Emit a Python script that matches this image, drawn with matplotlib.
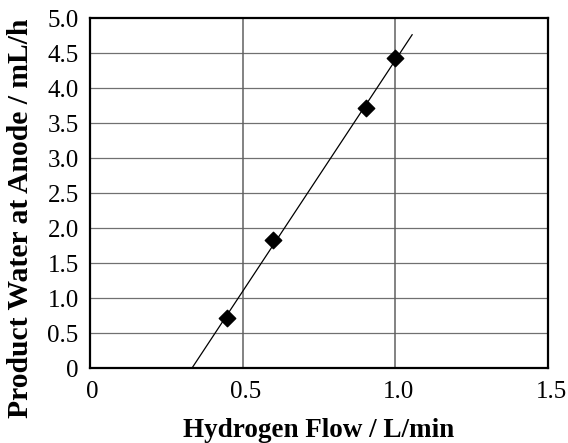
import matplotlib
matplotlib.use('Agg')
import matplotlib.pyplot as plt
import matplotlib.transforms as mtransforms
import numpy as np

# measured points
hydrogen_flow = [0.45, 0.60, 0.905, 1.0]       # L/min
product_water = [0.72, 1.83, 3.71, 4.43]       # mL/h
line_end_x = 1.055

x_ticks = [0, 0.5, 1.0, 1.5]
x_tick_labels = ['0', '0.5', '1.0', '1.5']
y_ticks = [0, 0.5, 1.0, 1.5, 2.0, 2.5, 3.0, 3.5, 4.0, 4.5, 5.0]
y_tick_labels = ['0', '0.5', '1.0', '1.5', '2.0', '2.5', '3.0', '3.5', '4.0', '4.5', '5.0']

plt.rcParams['font.family'] = 'Liberation Serif'

fig = plt.figure(figsize=(5.68, 4.43), dpi=100)
ax = fig.add_axes([0.158, 0.169, 0.807, 0.790])

# linear fit through the points
m, b = np.polyfit(hydrogen_flow, product_water, 1)
x0 = -b / m
xs = np.array([x0, line_end_x])
ax.plot(xs, m * xs + b, color='black', linewidth=0.9, zorder=3)

ax.scatter(hydrogen_flow, product_water, marker='D', s=70, color='black', zorder=4)

ax.set_xlim(0, 1.5)
ax.set_ylim(0, 5.0)
ax.set_xticks(x_ticks)
ax.set_xticklabels(x_tick_labels)
ax.set_yticks(y_ticks)
ax.set_yticklabels(y_tick_labels)

for y in y_ticks[1:-1]:
    ax.axhline(y, color='#707070', linewidth=0.9, zorder=1)
for x in x_ticks[1:-1]:
    ax.axvline(x, color='#606060', linewidth=1.1, zorder=1)

ax.tick_params(length=0, labelsize=18, pad=8)
ax.tick_params(axis='x', pad=9)
offset = mtransforms.ScaledTranslation(3 / 100, 0, fig.dpi_scale_trans)
for lbl in ax.get_xticklabels():
    lbl.set_transform(lbl.get_transform() + offset)

for s in ax.spines.values():
    s.set_linewidth(1.6)
    s.set_color('black')

ax.set_xlabel('Hydrogen Flow / L/min', fontsize=19.5, fontweight='bold', va='center')
ax.set_ylabel('Product Water at Anode / mL/h', fontsize=21.3, fontweight='bold', va='center')
ax.xaxis.set_label_coords(0.5, -0.177)
ax.yaxis.set_label_coords(-0.152, 0.427)

fig.savefig('out.png', dpi=100)
